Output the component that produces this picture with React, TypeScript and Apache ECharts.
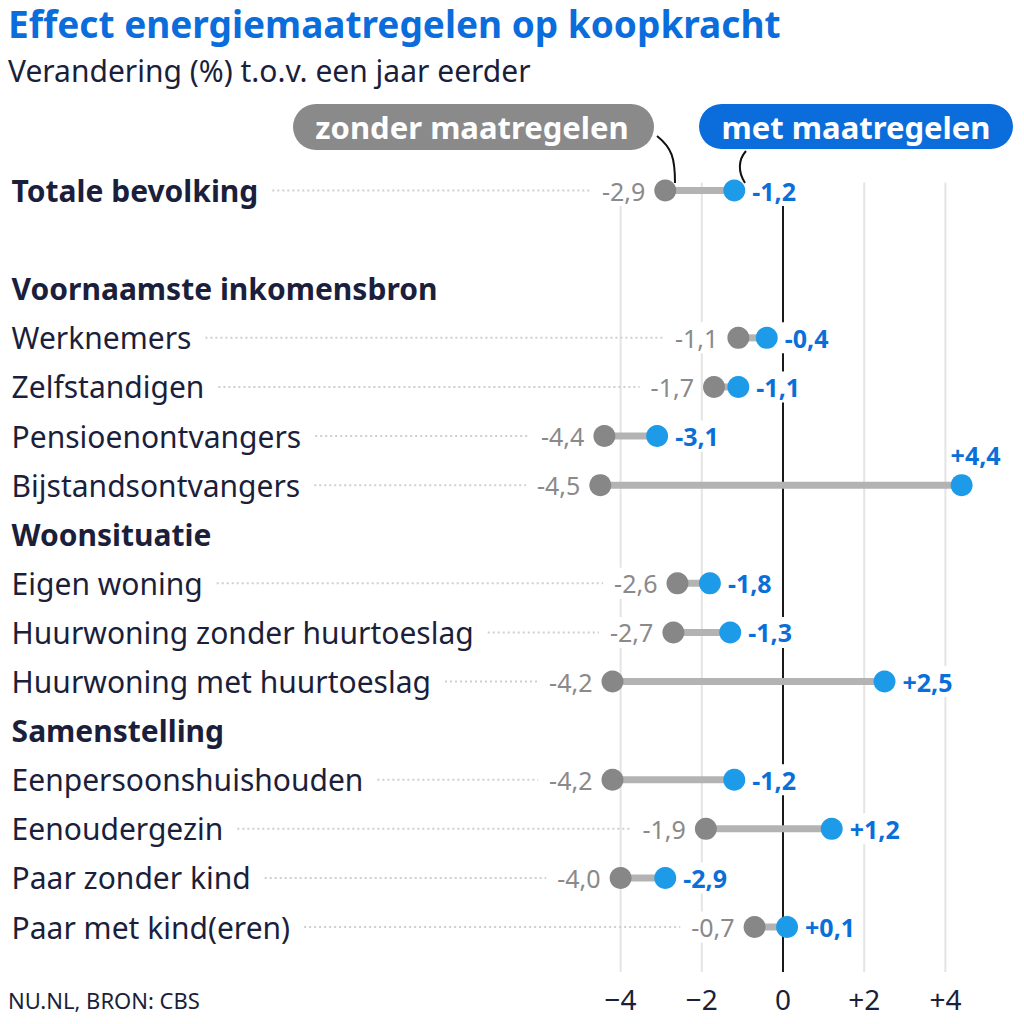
import React, { useEffect, useRef } from 'react';
import * as echarts from 'echarts';

const categories = [
  'Totale bevolking', '', 'Voornaamste inkomensbron', 'Werknemers', 'Zelfstandigen',
  'Pensioenontvangers', 'Bijstandsontvangers', 'Woonsituatie', 'Eigen woning',
  'Huurwoning zonder huurtoeslag', 'Huurwoning met huurtoeslag', 'Samenstelling',
  'Eenpersoonshuishouden', 'Eenoudergezin', 'Paar zonder kind', 'Paar met kind(eren)',
];
const boldRows = ['Totale bevolking', 'Voornaamste inkomensbron', 'Woonsituatie', 'Samenstelling'];
const zonder: (number | null)[] = [-2.9, null, null, -1.1, -1.7, -4.4, -4.5, null, -2.6, -2.7, -4.2, null, -4.2, -1.9, -4.0, -0.7];
const met: (number | null)[] = [-1.2, null, null, -0.4, -1.1, -3.1, 4.4, null, -1.8, -1.3, 2.5, null, -1.2, 1.2, -2.9, 0.1];
const xTicks = [-4, -2, 0, 2, 4];

const FONT = '"Noto Sans", sans-serif';
const DARK = '#1b1f3b';
const BLUE_TXT = '#0a6fd8';
const BLUE_DOT = '#1e9be8';
const GRAY_DOT = '#878787';
const LABEL_SIZE = 30;
const VAL_SIZE = 25;

const GRID_LEFT = 11.6;
const GRID_RIGHT = 17.7;
const GRID_TOP = 166;
const GRID_BOTTOM = 72.4;

function fmtGray(v: number) {
  return (v < 0 ? '-' : '') + Math.abs(v).toFixed(1).replace('.', ',');
}
function fmtBlue(v: number) {
  return (v > 0 ? '+' : v < 0 ? '-' : '') + Math.abs(v).toFixed(1).replace('.', ',');
}
function fmtTick(v: number) {
  if (v === 0) return '0';
  return (v < 0 ? '\u2212' : '+') + Math.abs(v);
}

export default function App() {
  const ref = useRef<HTMLDivElement>(null);
  useEffect(() => {
    const canvas = document.createElement('canvas');
    const ctx = canvas.getContext('2d')!;
    const measure = (t: string, font: string) => {
      ctx.font = font;
      return ctx.measureText(t).width;
    };
    const labelW = categories.map((c) =>
      measure(c, `${boldRows.includes(c) ? 'bold ' : ''}${LABEL_SIZE}px ${FONT}`)
    );
    const grayW = zonder.map((v) => (v == null ? 0 : measure(fmtGray(v), `${VAL_SIZE}px ${FONT}`)));

    const rows = categories
      .map((c, i) => ({ i, z: zonder[i], m: met[i] }))
      .filter((r) => r.z != null && r.m != null) as { i: number; z: number; m: number }[];

    const chart = echarts.init(ref.current!, null, { renderer: 'svg' });
    const option: any = {
      animation: false,
      backgroundColor: '#fff',
      textStyle: { fontFamily: FONT },
      grid: { left: GRID_LEFT, right: GRID_RIGHT, top: GRID_TOP, bottom: GRID_BOTTOM },
      xAxis: {
        type: 'value',
        min: -19,
        max: 5.5,
        interval: 1,
        axisLine: { show: false },
        axisTick: { show: false },
        splitLine: { show: false },
        axisLabel: {
          margin: 33,
          fontSize: 28,
          color: DARK,
          fontFamily: FONT,
          formatter: (v: number) => (xTicks.includes(v) ? fmtTick(v) : ''),
        },
      },
      yAxis: {
        type: 'category',
        data: categories,
        inverse: true,
        axisLine: { show: false },
        axisTick: { show: false },
        splitLine: { show: false },
        axisLabel: {
          interval: 0,
          align: 'left',
          margin: 0,
          formatter: (v: string) => (v === '' ? '' : boldRows.includes(v) ? `{b|${v}}` : `{n|${v}}`),
          rich: {
            b: { fontSize: LABEL_SIZE, fontWeight: 'bold', color: DARK, fontFamily: FONT },
            n: { fontSize: LABEL_SIZE, color: DARK, fontFamily: FONT },
          },
        },
      },
      graphic: [
        {
          type: 'text',
          x: 8,
          y: 3,
          style: { text: 'Effect energiemaatregelen op koopkracht', fill: '#0a6ddb', fontSize: 37, lineHeight: 40, fontWeight: 'bold', fontFamily: FONT, verticalAlign: 'top' },
        },
        {
          type: 'text',
          x: 8,
          y: 70,
          style: { text: 'Verandering (%) t.o.v. een jaar eerder', fill: DARK, fontSize: 30, fontFamily: FONT, verticalAlign: 'middle' },
        },
        {
          type: 'text',
          x: 8,
          y: 1000,
          style: { text: 'NU.NL, BRON: CBS', fill: DARK, fontSize: 22, fontFamily: FONT, verticalAlign: 'middle' },
        },
        {
          type: 'rect',
          shape: { x: 293, y: 104, width: 361, height: 46, r: 23 },
          style: { fill: '#8a8a8a' },
          z: 10,
        },
        {
          type: 'text',
          x: 472,
          y: 127,
          style: { text: 'zonder maatregelen', fill: '#fff', fontSize: 31, fontWeight: 'bold', fontFamily: FONT, align: 'center', verticalAlign: 'middle' },
          z: 11,
        },
        {
          type: 'rect',
          shape: { x: 699, y: 104, width: 314, height: 45, r: 22.5 },
          style: { fill: '#0a6ddb' },
          z: 10,
        },
        {
          type: 'text',
          x: 856,
          y: 126.5,
          style: { text: 'met maatregelen', fill: '#fff', fontSize: 31, fontWeight: 'bold', fontFamily: FONT, align: 'center', verticalAlign: 'middle' },
          z: 11,
        },
        {
          type: 'bezierCurve',
          shape: { x1: 657, y1: 136, cpx1: 672, cpy1: 148, cpx2: 675, cpy2: 158, x2: 675, y2: 183 },
          style: { stroke: '#111', lineWidth: 2, fill: 'none' },
          z: 10,
        },
        {
          type: 'bezierCurve',
          shape: { x1: 746, y1: 151, cpx1: 738, cpy1: 160, cpx2: 738, cpy2: 172, x2: 745, y2: 183 },
          style: { stroke: '#111', lineWidth: 2, fill: 'none' },
          z: 10,
        },
      ],
      series: [
        {
          type: 'custom',
          z: 1,
          silent: true,
          data: xTicks.map((v) => [v, 0]),
          encode: { x: 0, y: 1 },
          renderItem: (params: any, api: any) => {
            const v = api.value(0);
            const x = api.coord([v, 0])[0];
            const top = api.coord([0, 0])[1] - 8;
            const bottom = api.coord([0, categories.length - 1])[1] + 45;
            return {
              type: 'line',
              z2: v === 0 ? 2 : 1,
              shape: { x1: x, y1: top, x2: x, y2: bottom },
              style: { stroke: v === 0 ? '#1a1a1a' : '#e4e4e4', lineWidth: 2 },
            };
          },
        },
        {
          type: 'custom',
          z: 2,
          silent: true,
          data: rows.map((r) => [r.z, r.m, r.i]),
          encode: { x: [0, 1], y: 2 },
          renderItem: (params: any, api: any) => {
            const i = api.value(2);
            const y = api.coord([0, i])[1];
            const xz = api.coord([api.value(0), i])[0];
            const x1 = GRID_LEFT + labelW[i] + 14;
            const x2 = xz - 11 - 8 - grayW[i] - 12;
            return {
              type: 'line',
              shape: { x1, y1: y, x2, y2: y },
              style: { stroke: '#cfcfcf', lineWidth: 2, lineDash: [2, 3] },
            };
          },
        },
        {
          type: 'custom',
          z: 3,
          silent: true,
          data: rows.map((r) => [r.z, r.m, r.i]),
          encode: { x: [0, 1], y: 2 },
          renderItem: (params: any, api: any) => {
            const i = api.value(2);
            const p1 = api.coord([api.value(0), i]);
            const p2 = api.coord([api.value(1), i]);
            return {
              type: 'line',
              shape: { x1: p1[0], y1: p1[1], x2: p2[0], y2: p2[1] },
              style: { stroke: '#b3b3b3', lineWidth: 7 },
            };
          },
        },
        {
          type: 'scatter',
          z: 4,
          symbol: 'circle',
          symbolSize: 22,
          itemStyle: { color: GRAY_DOT, opacity: 1 },
          data: rows.map((r) => [r.z, r.i]),
          label: {
            show: true,
            position: 'left',
            distance: 6,
            formatter: (p: any) => fmtGray(p.value[0]),
            fontSize: VAL_SIZE,
            color: '#8a8a8a',
            fontFamily: FONT,
            backgroundColor: '#fff',
            padding: [3, 3],
          },
        },
        {
          type: 'scatter',
          z: 5,
          symbol: 'circle',
          symbolSize: 22,
          itemStyle: { color: BLUE_DOT, opacity: 1 },
          data: rows.map((r) => ({
            value: [r.m, r.i],
            label: r.m > 4 ? { position: 'top', distance: 4, offset: [14, 0] } : undefined,
          })),
          label: {
            show: true,
            position: 'right',
            distance: 4,
            formatter: (p: any) => fmtBlue(p.value[0]),
            fontSize: VAL_SIZE,
            fontWeight: 'bold',
            color: BLUE_TXT,
            fontFamily: FONT,
            backgroundColor: '#fff',
            padding: [3, 3],
          },
        },
      ],
    };
    chart.setOption(option);
    return () => chart.dispose();
  }, []);
  return (
    <div
      ref={ref}
      style={{ position: 'absolute', left: 0, top: 0, width: 1024, height: 1024, background: '#fff' }}
    />
  );
}
